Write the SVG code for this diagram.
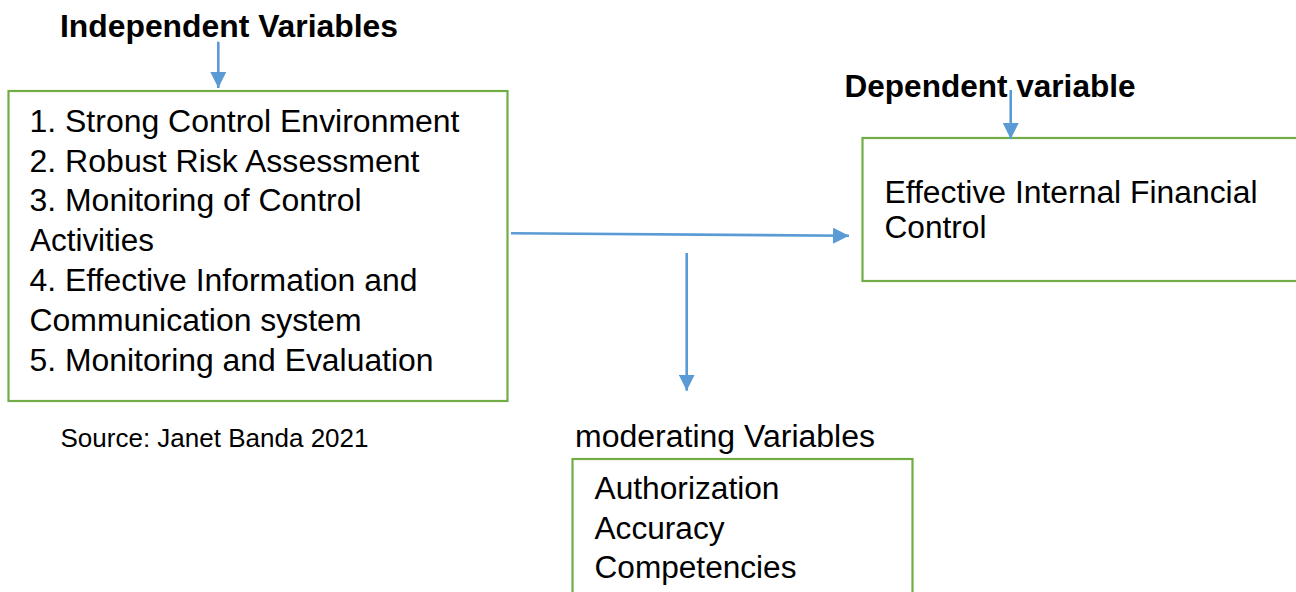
<svg xmlns="http://www.w3.org/2000/svg" width="1296" height="592" viewBox="0 0 1296 592">
  <style>
    .t { font-family: "Liberation Sans", Arial, sans-serif; fill: #000; }
    .big { font-size: 31px; }
    .b { font-weight: bold; }
    .src { font-size: 25px; }
    .box { fill: #fff; stroke: #70AD47; stroke-width: 2.2; }
    .con { stroke: #5B9BD5; stroke-width: 2.6; fill: none; }
  </style>
  <defs>
    <marker id="ah" markerUnits="userSpaceOnUse" markerWidth="16" markerHeight="16" refX="16" refY="8" orient="auto">
      <path d="M0,0 L16,8 L0,16 z" fill="#5B9BD5"/>
    </marker>
  </defs>
  <rect width="1296" height="592" fill="#fff"/>

  <g id="independent">
    <text class="t big b" x="60" y="37" textLength="338" lengthAdjust="spacingAndGlyphs">Independent Variables</text>
    <rect class="box" x="8.5" y="91" width="499" height="310"/>
    <text class="t big" x="29.5" y="131.7" textLength="430" lengthAdjust="spacingAndGlyphs">1. Strong Control Environment</text>
    <text class="t big" x="29.5" y="171.5" textLength="390" lengthAdjust="spacingAndGlyphs">2. Robust Risk Assessment</text>
    <text class="t big" x="29.5" y="211" textLength="332" lengthAdjust="spacingAndGlyphs">3. Monitoring of Control</text>
    <text class="t big" x="30" y="250.5" textLength="124" lengthAdjust="spacingAndGlyphs">Activities</text>
    <text class="t big" x="29.5" y="290.5" textLength="388" lengthAdjust="spacingAndGlyphs">4. Effective Information and</text>
    <text class="t big" x="29.5" y="330.5" textLength="332" lengthAdjust="spacingAndGlyphs">Communication system</text>
    <text class="t big" x="29.5" y="370.5" textLength="404" lengthAdjust="spacingAndGlyphs">5. Monitoring and Evaluation</text>
  </g>

  <g id="source">
    <text class="t src" x="60.5" y="446.5" textLength="308" lengthAdjust="spacingAndGlyphs">Source: Janet Banda 2021</text>
  </g>

  <g id="dependent">
    <text class="t big b" x="844.5" y="97" textLength="291" lengthAdjust="spacingAndGlyphs">Dependent variable</text>
    <rect class="box" x="862.5" y="138" width="440" height="143"/>
    <text class="t big" x="884.5" y="202.7" textLength="373" lengthAdjust="spacingAndGlyphs">Effective Internal Financial</text>
    <text class="t big" x="884.5" y="238.3" textLength="102" lengthAdjust="spacingAndGlyphs">Control</text>
  </g>

  <g id="moderating">
    <text class="t big" x="575" y="446.7" textLength="300" lengthAdjust="spacingAndGlyphs">moderating Variables</text>
    <rect class="box" x="572.5" y="459" width="340" height="140"/>
    <text class="t big" x="594.5" y="499.3" textLength="185" lengthAdjust="spacingAndGlyphs">Authorization</text>
    <text class="t big" x="594.5" y="539.3" textLength="130" lengthAdjust="spacingAndGlyphs">Accuracy</text>
    <text class="t big" x="594.5" y="578" textLength="202" lengthAdjust="spacingAndGlyphs">Competencies</text>
  </g>

  <g id="connectors">
    <line class="con" x1="218.3" y1="41.7" x2="218.3" y2="88" marker-end="url(#ah)"/>
    <line class="con" x1="1010.7" y1="90" x2="1010.7" y2="139" marker-end="url(#ah)"/>
    <line class="con" x1="511" y1="233.3" x2="849" y2="235.8" marker-end="url(#ah)"/>
    <line class="con" x1="686.7" y1="253" x2="686.7" y2="390.7" marker-end="url(#ah)"/>
  </g>
</svg>
